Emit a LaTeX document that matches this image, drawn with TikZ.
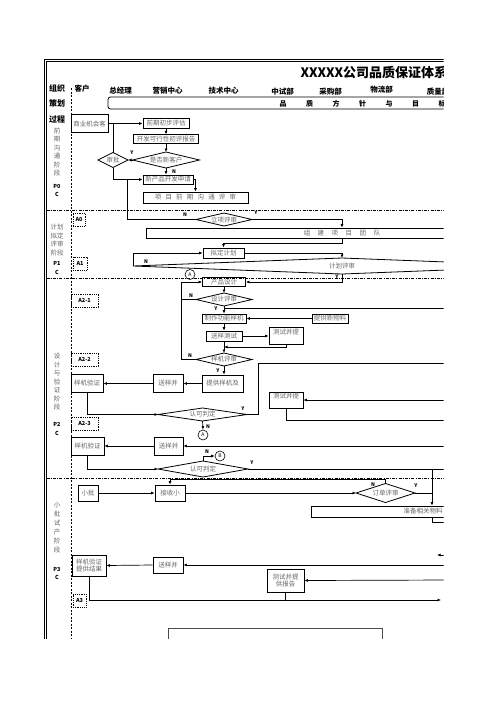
\documentclass[tikz,border=0pt]{standalone}
\usepackage{fontspec}
\setmainfont{Noto Sans CJK SC}
\usetikzlibrary{shapes.geometric,arrows.meta}
\newcommand{\cgap}{\hspace{4.2pt}}
\newcommand{\wcgap}{\hspace{7.5pt}}
\tikzset{
  stepbox/.style={draw, line width=0.8pt, inner sep=1pt, align=center,
    font=\fontsize{6.5}{7.5}\selectfont, text=black!60},
  choice/.style={draw, diamond, line width=0.8pt, inner sep=0pt, outer sep=0pt},
  choicetext/.style={inner sep=0pt, font=\fontsize{6.5}{7.5}\selectfont, text=black!60},
  tagbox/.style={draw, densely dotted, line width=0.8pt, inner sep=0pt,
    font=\fontsize{5.5}{6}\bfseries},
  hub/.style={draw, circle, line width=0.6pt, minimum size=10pt, inner sep=0pt,
    font=\fontsize{5}{5}\selectfont},
  yn/.style={inner sep=0pt, font=\fontsize{5}{5}\bfseries},
  link/.style={line width=0.7pt},
  flow/.style={link, -{Latex[length=3.5pt,width=3pt]}},
  dept/.style={font=\fontsize{7.5}{8}\bfseries},
  rowhead/.style={font=\fontsize{8}{8}\bfseries},
  phasetext/.style={align=center, text=black!60, font=\fontsize{6.5}{8.5}\selectfont},
  pcode/.style={align=center, font=\fontsize{5.5}{8}\bfseries},
  phaseline/.style={line width=0.7pt, dash pattern=on 3pt off 1.2pt on 1pt off 1.2pt}
}
\begin{document}
\begin{tikzpicture}[x=1pt,y=-1pt]
\useasboundingbox (0,0) rectangle (496,702);
\begin{scope}
\clip (0,0) rectangle (443.5,638);
% frame and lanes
\draw[line width=0.8pt] (44,640) -- (44,59) -- (450,59);
\draw[line width=0.8pt] (46.5,640) -- (46.5,61.5) -- (450,61.5);
\draw[line width=0.6pt, dash pattern=on 2pt off 1.5pt] (71,88) -- (71,640);
\foreach \y in {210,278,478}
  \draw[phaseline] (46.5,\y) -- (450,\y);

% title and header row
\node[anchor=west, font=\fontsize{13}{14}\bfseries] (title) at (297,73) {XXXXX公司品质保证体系图};
\node[rowhead] (org1) at (57,88) {组织};
\node[rowhead] (org2) at (57,103) {策划};
\node[rowhead] (org3) at (57,119) {过程};
\foreach \t/\x/\y [count=\i] in {客户/82/89, 总经理/120.5/91, 营销中心/167.5/91, 技术中心/223.5/91,
    中试部/282.5/92, 采购部/330.5/92, 物流部/381.5/90, 质量部/438/92}
  \node[dept] (dept\i) at (\x,\y) {\t};
\draw[line width=0.8pt, rounded corners=2.5pt] (108,97) rectangle (560,109);
\foreach \c [count=\i] in {品,质,方,针,与,目,标}
  \node[font=\fontsize{7}{7}\bfseries] (aim\i) at ({256.5+26.5*\i},103.5) {\c};

% phase column
\node[phasetext] (ph0) at (57,152) {前\\期\\沟\\通\\阶\\段};
\node[pcode] (pc0) at (57,190.5) {P0\\C};
\node[phasetext] (ph1) at (57,240) {计划\\拟定\\评审\\阶段};
\node[pcode, font=\fontsize{5.5}{9}\bfseries] (pc1) at (57,267.5) {P1\\C};
\node[phasetext] (ph2) at (57,382) {设\\计\\与\\验\\证\\阶\\段};
\node[pcode, font=\fontsize{5.5}{9}\bfseries] (pc2) at (57,428.5) {P2\\C};
\node[phasetext, font=\fontsize{6.5}{9}\selectfont] (ph3) at (57,527.5) {小\\批\\试\\产\\阶\\段};
\node[pcode] (pc3) at (57,573) {P3\\C};
\node[tagbox, minimum width=12pt, minimum height=13pt] (tA0) at (79,219.5) {A0};
\node[tagbox, minimum width=14pt, minimum height=13pt] (tA1) at (80,263.5) {A1};
\node[tagbox, minimum width=27pt, minimum height=13pt] (tA21) at (84.5,300.5) {A2-1};
\node[tagbox, minimum width=27pt, minimum height=13pt] (tA22) at (84.5,359.5) {A2-2};
\node[tagbox, minimum width=27pt, minimum height=13pt] (tA23) at (84.5,423.5) {A2-3};
\node[tagbox, minimum width=13pt, minimum height=13pt] (tA3) at (79.5,600.5) {A3};

% P0
\node[stepbox, minimum width=37pt, minimum height=18pt] (cust0) at (89.5,123.5) {商业机会客};
\node[stepbox, minimum width=46pt, minimum height=9.5pt] (eval0) at (166,123.5) {前期初步评估};
\node[stepbox, minimum width=65pt, minimum height=8.5pt] (report) at (166,139) {开发可行性初评报告};
\node[choice, minimum width=67pt, minimum height=16pt, label={[choicetext]center:是否新客户}] (dnew) at (166,160) {};
\node[choice, minimum width=30pt, minimum height=15pt, label={[choicetext]center:审批}] (dappr) at (113,160) {};
\node[stepbox, minimum width=50pt, minimum height=9pt] (apply) at (168,179.5) {新产品开发申请};
\node[stepbox, minimum width=105pt, minimum height=11pt] (comm) at (195.5,197.5)
  {项\cgap 目\cgap 前\cgap 期\cgap 沟\cgap 通\cgap 评\cgap 审};
\node[choice, minimum width=56pt, minimum height=13pt, label={[choicetext]center:立项评审}] (dproj) at (224,219.5) {};

% P1
\node[stepbox, minimum width=392pt, minimum height=10pt] (team) at (342,233)
  {组\wcgap 建\wcgap 项\wcgap 目\wcgap 团\wcgap 队};
\node[stepbox, minimum width=41pt, minimum height=10pt] (plan) at (223.5,253) {拟定计划};
\node[choice, minimum width=418pt, minimum height=16pt, label={[choicetext]center:计划评审}] (dplan) at (342,266) {};

% P2
\node[stepbox, minimum width=43pt, minimum height=8.5pt] (design) at (224,282) {产品设计};
\node[hub] (cA1) at (190,274.5) {A};
\node[choice, minimum width=56pt, minimum height=13pt, label={[choicetext]center:设计评审}] (ddes) at (224,299.5) {};
\node[stepbox, minimum width=44pt, minimum height=9pt] (make) at (224,318.5) {制作功能样机};
\node[stepbox, minimum width=36pt, minimum height=9pt] (newmat) at (330,318.5) {提供新物料};
\node[stepbox, minimum width=36pt, minimum height=10pt] (test) at (224,336) {送样测试};
\node[stepbox, minimum width=34pt, minimum height=16.5pt, text depth=8.5pt] (report1) at (286,336) {测试并提};
\node[choice, minimum width=56pt, minimum height=13pt, label={[choicetext]center:样机评审}] (dproto) at (224,359.5) {};
\node[stepbox, minimum width=41pt, minimum height=17pt] (proto) at (222.5,383.5) {提供样机及};
\node[stepbox, minimum width=30pt, minimum height=18pt] (send1) at (168,383.5) {送样并};
\node[stepbox, minimum width=32pt, minimum height=18pt] (verify1) at (87,383.5) {样机验证};
\node[choice, minimum width=89pt, minimum height=13pt, label={[choicetext]center:认可判定}] (dok1) at (202.5,414.5) {};
\node[hub] (cA2) at (203,435) {A};
\node[stepbox, minimum width=34pt, minimum height=16pt, text depth=8pt] (report2) at (286,400) {测试并提};
\node[stepbox, minimum width=29pt, minimum height=18pt] (send2) at (168.5,446) {送样并};
\node[stepbox, minimum width=33pt, minimum height=18pt] (verify2) at (87.5,446) {样机验证};
\node[choice, minimum width=90pt, minimum height=16pt, label={[choicetext]center:认可判定}] (dok2) at (203,469) {};
\node[hub] (cB) at (220,456) {B};

% P3
\node[stepbox, minimum width=20pt, minimum height=16pt] (small) at (88,493) {小批};
\node[stepbox, minimum width=30pt, minimum height=16pt] (recv) at (170,493) {接收小};
\node[choice, minimum width=59pt, minimum height=19pt, label={[choicetext]center:订单评审}] (dorder) at (385.5,493) {};
\node[stepbox, minimum width=224pt, minimum height=11pt] (prep) at (423,511.5) {准备相关物料};
\node[stepbox, minimum width=30pt, minimum height=16pt] (send3) at (168,565) {送样并};
\node[stepbox, minimum width=34pt, minimum height=21pt] (result) at (89,565.5) {样机验证\\提供结果};
\node[stepbox, minimum width=37pt, minimum height=23pt] (report3) at (285.5,580.5) {测试并提\\供报告};
\draw[line width=0.8pt, black!70] (168,700) |- (382,628) -- (382,700);

% Y / N marks
\foreach \t/\x/\y [count=\i] in {Y/132/153, N/174/172, N/185/215, Y/256/213, N/146/262, Y/337/277,
    N/191/296, Y/216/309, N/190/356, Y/218/371, Y/243/409, N/208/427, N/207/452, Y/252/463,
    N/373/485, Y/416/486}
  \node[yn] (yn\i) at (\x,\y) {\t};

% connectors P0 / P1
\draw[flow] (cust0.east) -- (eval0.west);
\draw[link] (dappr.north |- cust0.east) -- (dappr.north);
\draw[flow] (dappr.south) |- (apply.west);
\draw[flow] (eval0.south) -- (report.north);
\draw[flow] (report.south) -- (dnew.north);
\draw[flow] (dnew.west) -- (dappr.east);
\draw[flow] (dnew.south) -- (dnew.south |- apply.north);
\draw[flow] (apply.east) -| (comm.north);
\coordinate (back0) at (127,179.5);
\draw[link] (dproj.west) -| (back0);
\draw[flow] (dproj.east) -| (team.north);
\draw[flow] (team.south) -- ++(0,5) -| (plan.north);
\draw[flow] (dplan.west) |- (plan.west);
\draw[flow] (plan.east) -| (dplan.north);
\draw[flow] (dplan.south) |- (design.east);

% connectors P2
\draw[flow] (design.south) -- (ddes.north);
\coordinate (loopA) at (181,282);
\draw[link] (ddes.west) -- (ddes.west -| loopA);
\draw[flow] (dproto.west) -| (loopA) -- (design.west);
\draw[flow] (ddes.south) -- (make.north);
\coordinate (in1) at (450,308);
\draw[link] (in1) -- (in1 -| make.north);
\draw[flow] (newmat.west) -- (make.east);
\draw[flow] (make.south) -- (test.north);
\draw[flow] (test.east) -- (test.east -| report1.west);
\coordinate (mid1) at (224,347);
\draw[flow] (report1.south) |- (mid1);
\draw[flow] (test.south) -- (dproto.north);
\draw[flow] (dproto.south) -- (dproto.south |- proto.north);
\draw[flow] (proto.west) -- (send1.east);
\draw[flow] (send1.west) -- (verify1.east);
\draw[flow] (verify1.south) |- (dok1.west);
\coordinate (out1) at (450,363);
\draw[link] (dok1.east) -- ++(11,0) |- (out1);
\draw[flow] (dok1.south) -- (cA2.north);
\coordinate (in2) at (450,400);
\draw[flow] (in2) -- (report2.east);
\coordinate (out2) at (450,420);
\draw[link] (report2.south) |- (out2);
\coordinate (in3) at (450,446);
\draw[flow] (in3) -- (send2.east);
\draw[flow] (send2.west) -- (verify2.east);
\draw[flow] (verify2.south) |- (dok2.west);
\draw[flow] (dok2.north) |- (cB.west);
\coordinate (out3) at (450,469);
\draw[link] (dok2.east) -- (out3);

% connectors P3
\coordinate (drop) at (432,469);
\draw[flow] (drop) -- (drop |- prep.north);
\draw[flow] (small.east) -- (recv.west);
\draw[flow] (recv.east) -- (dorder.west);
\draw[flow] (dorder.north) -- ++(0,-4.5) -| (recv.north);
\draw[link] (dorder.east) -- (dorder.east -| drop);
\coordinate (out4) at (450,522);
\draw[link] (drop |- prep.south) |- (out4);
\coordinate (in4) at (445,555);
\draw[flow] (in4) -- ++(-8,0);
\coordinate (in5) at (450,565);
\draw[flow] (in5) -- (send3.east);
\draw[flow] (send3.west) -- (result.east);
\coordinate (out5) at (441,600);
\draw[flow] (result.south) |- (out5);
\coordinate (in6) at (450,580);
\draw[flow] (in6) -- (report3.east);
\draw[link] (report3.south) -- (report3.south |- out5);
\end{scope}
\end{tikzpicture}
\end{document}
